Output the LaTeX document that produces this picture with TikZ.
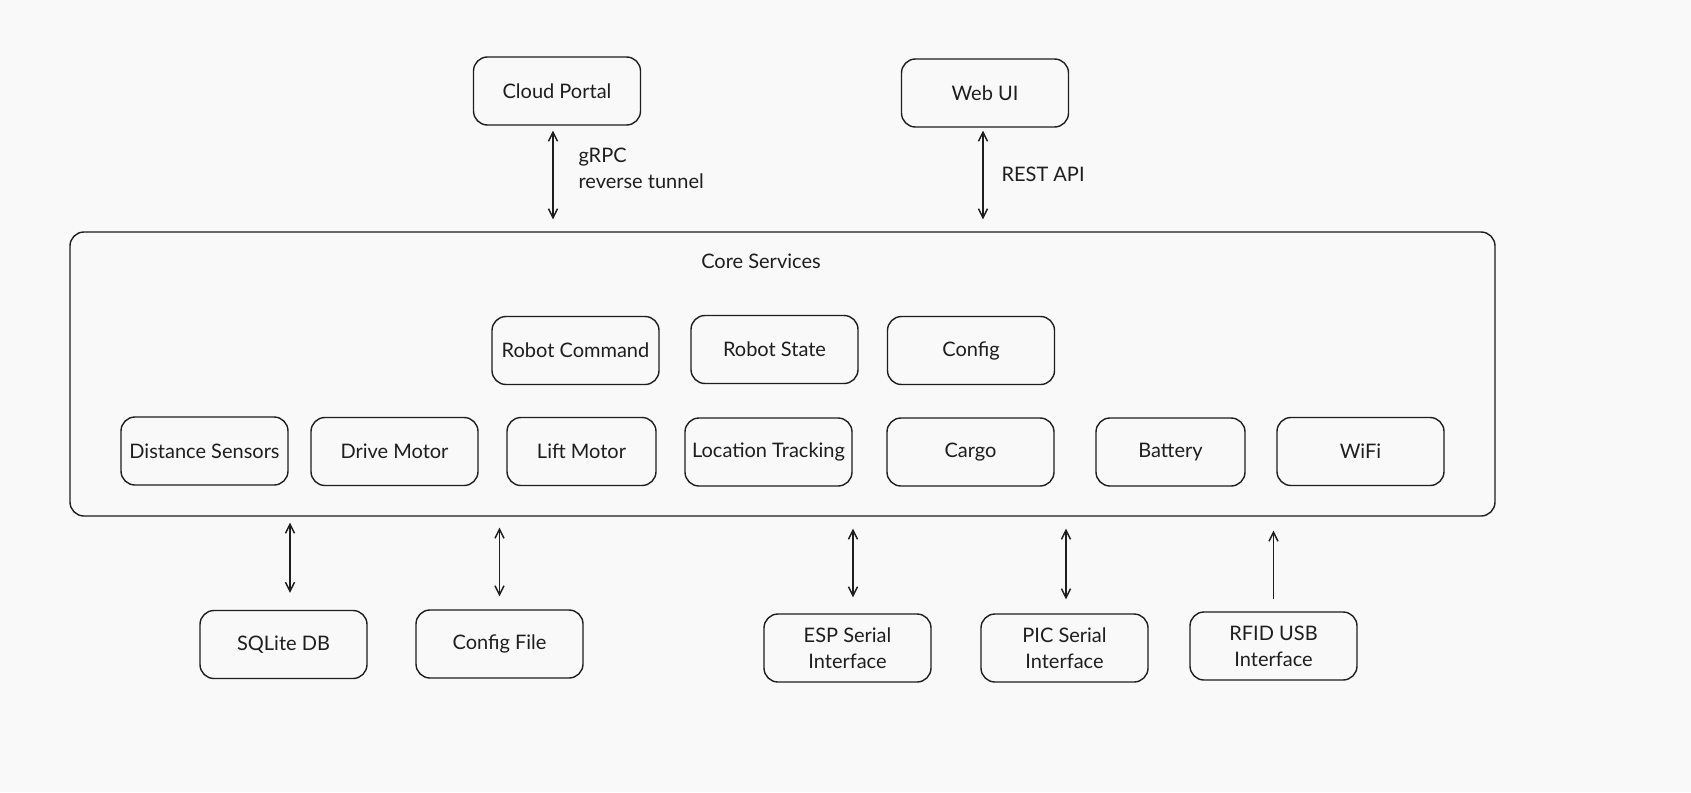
\documentclass[tikz,border=0pt]{standalone}
\usepackage{fontspec}
\setmainfont{Lato}
\usetikzlibrary{arrows.meta}
\definecolor{ink}{HTML}{1E1E1E}
\definecolor{paper}{HTML}{F9F9F9}
\tikzset{
  block/.style={draw=ink, line width=1.4pt, rounded corners=14pt, minimum width=167pt,
    minimum height=68pt, inner sep=0pt, align=center, text=ink, font=\fontsize{20}{26}\selectfont},
  small/.style={block, minimum width=149pt},
  label/.style={text=ink, anchor=west, align=left, font=\fontsize{20}{26}\selectfont},
  dual/.style={{Straight Barb[length=9pt,width=9pt]}-{Straight Barb[length=9pt,width=9pt]}, draw=ink, line width=1.4pt},
  single/.style={-{Straight Barb[length=9pt,width=9pt]}, draw=ink, line width=1.4pt}
}
\begin{document}
\begin{tikzpicture}[x=1pt, y=-1pt]
\fill[paper] (0,0) rectangle (1691,792);
\useasboundingbox (0,0) rectangle (1691,792);

% top
\node (cloud) at (557, 91) [block] {Cloud Portal};
\node (web) at (985, 93) [block] {Web UI};

% core services
\node (core) at (782.5, 374) [block, minimum width=1425pt, minimum height=284pt] {};
\node (coretitle) at (761, 261) [text=ink, font=\fontsize{20}{26}\selectfont] {Core Services};

\node (cmd) at (575.5, 350.5) [block] {Robot Command};
\node (state) at (774.5, 349.5) [block] {Robot State};
\node (config) at (971, 350.5) [block] {Config};

\node (dist) at (204.5, 451) [block] {Distance Sensors};
\node (drive) at (394.5, 451.5) [block] {Drive Motor};
\node (lift) at (581.5, 451.5) [small] {Lift Motor};
\node (loc) at (768.5, 452) [block] {Location Tracking};
\node (cargo) at (970.5, 452) [block] {Cargo};
\node (batt) at (1170.5, 452) [small] {Battery};
\node (wifi) at (1360.5, 451.5) [block] {WiFi};

% bottom
\node (db) at (283.5, 644.5) [block] {SQLite DB};
\node (file) at (499.5, 644) [block] {Config File};
\node (esp) at (847.5, 648) [block] {ESP Serial\\Interface};
\node (pic) at (1064.5, 648) [block] {PIC Serial\\Interface};
\node (rfid) at (1273.5, 646) [block] {RFID USB\\Interface};

% links
\draw[dual] ([xshift=-4pt, yshift=-5pt]cloud.south) -- ([xshift=-4pt, yshift=12pt]cloud.south |- core.north);
\draw[dual] ([xshift=-2pt, yshift=-3pt]web.south) -- ([xshift=-2pt, yshift=12pt]web.south |- core.north);
\node (grpc) at (575, 168) [label] {gRPC\\reverse tunnel};
\node (rest) at (998, 174) [label] {REST API};

\draw[dual] ([xshift=6.5pt, yshift=17pt]db.north) -- ([xshift=6.5pt, yshift=-6pt]db.north |- core.south);
\draw[dual] ([yshift=13pt]file.north) -- ([yshift=-11pt]file.north |- core.south);
\draw[dual] ([xshift=5.5pt, yshift=16pt]esp.north) -- ([xshift=5.5pt, yshift=-12pt]esp.north |- core.south);
\draw[dual] ([xshift=1.5pt, yshift=14pt]pic.north) -- ([xshift=1.5pt, yshift=-12pt]pic.north |- core.south);
\draw[single] ([yshift=12pt]rfid.north) -- ([yshift=-14pt]rfid.north |- core.south);
\end{tikzpicture}
\end{document}
